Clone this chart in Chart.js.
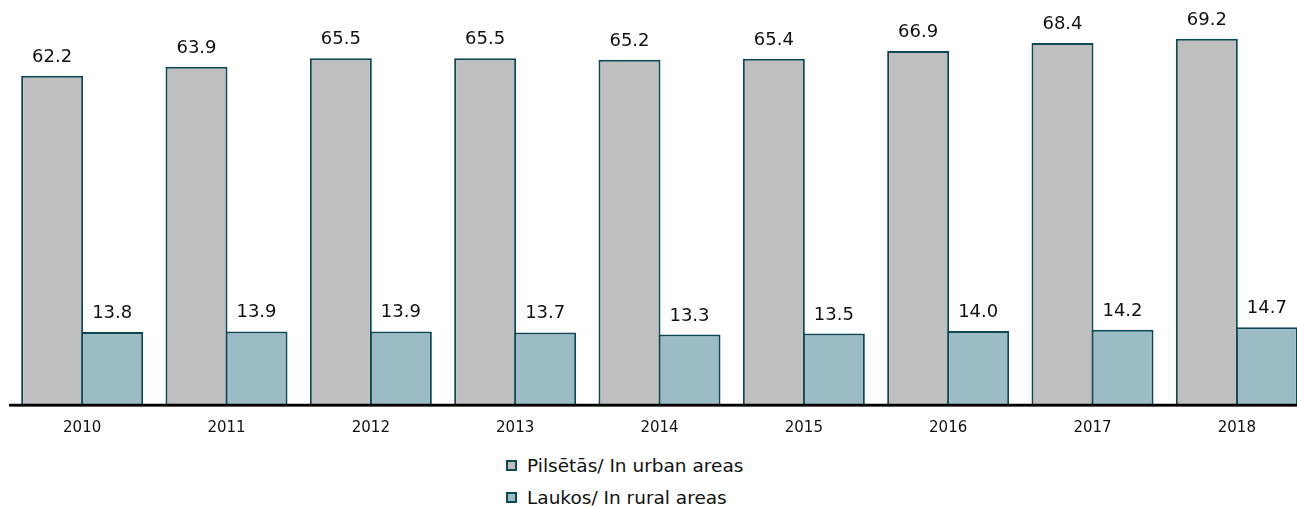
<!DOCTYPE html>
<html>
<head>
<meta charset="utf-8">
<script src="https://cdn.jsdelivr.net/npm/chart.js@4/dist/chart.umd.min.js"></script>
<style>
  html, body { margin: 0; padding: 0; background: #fff; overflow: hidden; width: 1297px; height: 508px; }
  #wrap { position: absolute; left: 0; top: 0; width: 1309px; height: 443px; }
  #legend { position: absolute; left: 506px; top: 449px; font-family: "DejaVu Sans", Verdana, sans-serif; font-size: 18.5px; color: #111; }
  .item { display: flex; align-items: center; height: 32px; }
  .box { width: 7px; height: 7px; border: 2px solid #0e4852; margin-right: 10px; }
</style>
</head>
<body>
<div id="wrap"><canvas id="chart"></canvas></div>
<div id="legend"></div>
<script>
// === Données ===
const years = ['2010', '2011', '2012', '2013', '2014', '2015', '2016', '2017', '2018'];
const urban = [62.2, 63.9, 65.5, 65.5, 65.2, 65.4, 66.9, 68.4, 69.2];
const rural = [13.8, 13.9, 13.9, 13.7, 13.3, 13.5, 14.0, 14.2, 14.7];
const seriesNames = ['Pilsētās/ In urban areas', 'Laukos/ In rural areas'];
const seriesColors = ['#bfbfbf', '#9bbbc5'];
const borderColor = '#0e4852';
const fontFamily = '"DejaVu Sans", Verdana, sans-serif';

// === Étiquettes au-dessus des barres + ligne d'axe par-dessus ===
const valueLabels = {
  id: 'valueLabels',
  afterDatasetsDraw(chart) {
    const ctx = chart.ctx;
    const area = chart.chartArea;
    ctx.save();
    ctx.font = '18px ' + fontFamily;
    ctx.fillStyle = '#111';
    ctx.textAlign = 'center';
    ctx.textBaseline = 'alphabetic';
    chart.data.datasets.forEach((ds, i) => {
      chart.getDatasetMeta(i).data.forEach((bar, j) => {
        ctx.fillText(ds.data[j].toFixed(1), bar.x, bar.y - 14);
      });
    });
    // axe X dessiné au-dessus des barres
    ctx.strokeStyle = '#000';
    ctx.lineWidth = 2.5;
    ctx.beginPath();
    ctx.moveTo(area.left, area.bottom);
    ctx.lineTo(area.right, area.bottom);
    ctx.stroke();
    ctx.restore();
  }
};

new Chart(document.getElementById('chart'), {
  type: 'bar',
  data: {
    labels: years,
    datasets: [
      { label: seriesNames[0], data: urban, backgroundColor: seriesColors[0], borderColor: borderColor, borderWidth: 2, borderSkipped: 'bottom' },
      { label: seriesNames[1], data: rural, backgroundColor: seriesColors[1], borderColor: borderColor, borderWidth: 2, borderSkipped: 'bottom' }
    ]
  },
  options: {
    responsive: true,
    maintainAspectRatio: false,
    animation: false,
    layout: { padding: { left: 10, right: 0, top: 8, bottom: 0 } },
    // barres qui se chevauchent de 2px pour partager la bordure
    datasets: { bar: { categoryPercentage: 0.8316, barPercentage: 1.033 } },
    plugins: { legend: { display: false }, tooltip: { enabled: false } },
    scales: {
      x: {
        grid: { display: false },
        border: { display: true, color: '#000', width: 2.5 },
        ticks: { color: '#111', font: { family: fontFamily, size: 15 }, padding: 6 }
      },
      y: { display: false, min: 0, max: 75 }
    }
  },
  plugins: [valueLabels]
});

// === Légende HTML ===
const legend = document.getElementById('legend');
seriesNames.forEach((name, i) => {
  const row = document.createElement('div');
  row.className = 'item';
  row.innerHTML = `<span class="box" style="background:${seriesColors[i]}"></span><span>${name}</span>`;
  legend.appendChild(row);
});
</script>
</body>
</html>
